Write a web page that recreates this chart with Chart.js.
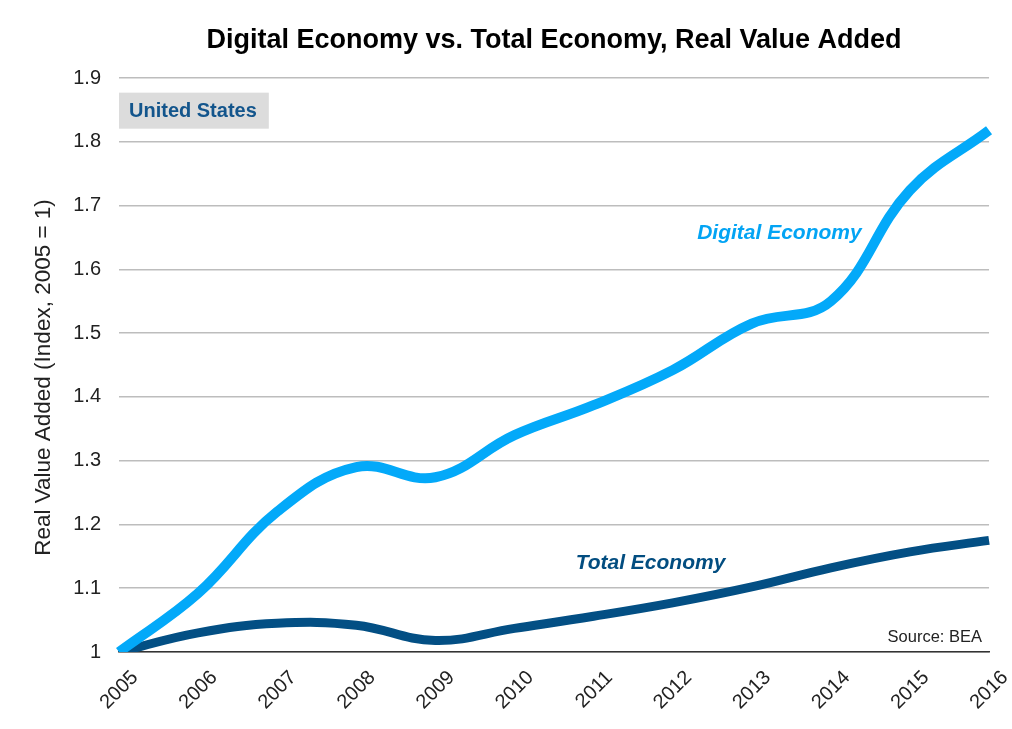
<!DOCTYPE html>
<html>
<head>
<meta charset="utf-8">
<script src="https://cdn.jsdelivr.net/npm/chart.js@4"></script>
<style>
  html, body { margin: 0; padding: 0; background: #fff; }
  #wrap { width: 1012px; height: 729px; }
</style>
</head>
<body>
<div id="wrap"><canvas id="econChart"></canvas></div>
<script>
// years on the x axis
const years = ['2005', '2006', '2007', '2008', '2009', '2010', '2011', '2012', '2013', '2014', '2015', '2016'];
// index values, 2005 = 1
const digitalEconomy = [1.0, 1.092, 1.22, 1.29, 1.274, 1.34, 1.387, 1.442, 1.515, 1.55, 1.724, 1.818];
const totalEconomy = [1.0, 1.03, 1.045, 1.042, 1.018, 1.037, 1.056, 1.077, 1.102, 1.132, 1.157, 1.175];
const yTicks = [1, 1.1, 1.2, 1.3, 1.4, 1.5, 1.6, 1.7, 1.8, 1.9];

const FONT = '"Liberation Sans", Helvetica, Arial, sans-serif';

// draws the text annotations, placed from the chart scales
const annotations = {
  id: 'annotations',
  afterDatasetsDraw(chart) {
    const { ctx, scales: { x, y }, chartArea } = chart;
    ctx.save();
    ctx.textBaseline = 'middle';

    // line labels
    ctx.font = 'italic bold 21px ' + FONT;
    ctx.textAlign = 'center';
    ctx.fillStyle = '#03a4f4';
    ctx.fillText('Digital Economy', x.getPixelForValue(8.35), y.getPixelForValue(1.657));
    ctx.fillStyle = '#024d80';
    ctx.fillText('Total Economy', x.getPixelForValue(6.72), y.getPixelForValue(1.1395));

    // country box
    ctx.font = 'bold 20px ' + FONT;
    ctx.textAlign = 'left';
    const boxX = chartArea.left;
    const boxY = y.getPixelForValue(1.877);
    const tw = ctx.measureText('United States').width;
    ctx.fillStyle = '#dcdcdc';
    ctx.fillRect(boxX, boxY, tw + 22, 36);
    ctx.fillStyle = '#13558c';
    ctx.fillText('United States', boxX + 10, boxY + 19);

    // source
    ctx.font = '16.5px ' + FONT;
    ctx.textAlign = 'right';
    ctx.fillStyle = '#222';
    ctx.fillText('Source: BEA', chartArea.right - 7, y.getPixelForValue(1.023));
    ctx.restore();
  }
};

new Chart(
  document.querySelector('#econChart'),
  {
    type: 'line',
    data: {
      labels: years,
      datasets: [
        {
          label: 'Digital Economy',
          data: digitalEconomy,
          borderColor: '#03a9f9',
          borderWidth: 10,
          tension: 0.4,
          pointRadius: 0
        },
        {
          label: 'Total Economy',
          data: totalEconomy,
          borderColor: '#034f84',
          borderWidth: 9,
          tension: 0.4,
          pointRadius: 0
        }
      ]
    },
    options: {
      responsive: true,
      maintainAspectRatio: false,
      animation: false,
      layout: { padding: { left: 0, right: 22, top: 0, bottom: 0 } },
      plugins: {
        legend: { display: false },
        tooltip: { enabled: false },
        title: {
          display: true,
          fullSize: false,
          text: 'Digital Economy vs. Total Economy, Real Value Added',
          color: '#000',
          font: { family: FONT, size: 27, weight: 'bold' },
          padding: { top: 24, bottom: 21.6 }
        }
      },
      scales: {
        x: {
          offset: false,
          grid: { display: false },
          border: { display: true, color: '#333', width: 1.5 },
          ticks: {
            color: '#222',
            font: { family: FONT, size: 20 },
            minRotation: 45,
            maxRotation: 45,
            labelOffset: 16,
            padding: 6
          },
          afterFit: scale => { scale.height = 77; }
        },
        y: {
          min: 1,
          max: 1.9,
          afterBuildTicks: scale => { scale.ticks = yTicks.map(v => ({ value: v })); },
          grid: { color: '#bdbdbd', lineWidth: 1.5, drawTicks: false },
          border: { display: false },
          ticks: {
            color: '#222',
            font: { family: FONT, size: 20 },
            padding: 18,
            callback: v => String(Math.round(v * 10) / 10)
          },
          title: {
            display: true,
            // trailing spaces nudge the centred text down a little
            text: 'Real Value Added (Index, 2005 = 1)\u00a0\u00a0\u00a0\u00a0',
            color: '#222',
            font: { family: FONT, size: 22.5 },
            padding: { top: 30, bottom: 0 }
          },
          afterFit: scale => { scale.width = 119; }
        }
      }
    },
    plugins: [annotations]
  }
);
</script>
</body>
</html>
